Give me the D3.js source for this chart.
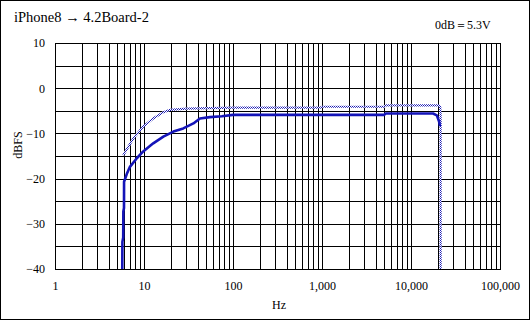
<!DOCTYPE html>
<html><head><meta charset="utf-8">
<script src="https://cdn.jsdelivr.net/npm/d3@7"></script>
<style>
html,body{margin:0;padding:0;background:#fff;}
svg{display:block;}
text{font-family:"Liberation Serif","Times New Roman",serif;fill:#000;}
</style></head>
<body><svg id="c" width="531" height="321"></svg>
<script>
const title = "iPhone8 → 4.2Board-2";
const refNote = "0dB＝5.3V";
const xTickValues = [1, 10, 100, 1000, 10000, 100000];
const yTickValues = [10, 0, -10, -20, -30, -40];
// solid blue series: frequency (Hz), level (dBFS)
const solidFreq = [5.7, 5.72, 5.84, 5.86, 5.96, 5.97, 6.4, 6.95, 8.3, 9.8, 12.7, 16.5, 21.4, 27.6, 35.9, 42.5, 55, 75, 100, 1000, 5000, 5200, 17700, 19500, 20700, 21200];
const solidDb   = [-40, -34, -33, -27.3, -26.5, -20.7, -19, -17.4, -15.5, -14.0, -12.2, -10.7, -9.6, -8.9, -7.8, -6.7, -6.4, -6.2, -5.9, -5.9, -5.9, -5.6, -5.6, -6.0, -7.4, -8.4];
// dotted series
const dotFreq = [5.85, 7.6, 9.8, 12.7, 16.5, 19.6, 30, 100, 950, 1000, 5000, 5200, 20500, 21300, 21500, 21500];
const dotDb   = [-14.8, -11.1, -8.5, -6.7, -5.3, -4.8, -4.5, -4.3, -4.3, -4.1, -4.1, -3.8, -3.8, -4.2, -6, -40];

const svg = d3.select("#c");
const W = 531, H = 321;
const m = {l:55, r:500, t:43, b:269};

// frame
svg.append("rect").attr("x",0.5).attr("y",0.5).attr("width",W-2).attr("height",H-2)
  .attr("fill","#fff").attr("stroke","#000").attr("stroke-width",1);

const x = d3.scaleLog().domain([1,100000]).range([m.l, m.r]);
const y = d3.scaleLinear().domain([-40,10]).range([m.b, m.t]);

// pattern for checkered line
const defs = svg.append("defs");
const pat = defs.append("pattern").attr("id","chk").attr("patternUnits","userSpaceOnUse")
  .attr("width",2).attr("height",2);
pat.append("rect").attr("width",2).attr("height",2).attr("fill","#fff");
pat.append("rect").attr("x",0).attr("y",0).attr("width",1).attr("height",1).attr("fill","#1c1cb4");
pat.append("rect").attr("x",1).attr("y",1).attr("width",1).attr("height",1).attr("fill","#1c1cb4");

const g = svg.append("g");
// vertical grid
const vlines = [];
for (let d = 1; d < 100000; d *= 10) for (let k = 1; k <= 9; k++) vlines.push(d*k);
vlines.push(100000);
g.selectAll(".vg").data(vlines).enter().append("line")
  .attr("x1", d => Math.round(x(d))+0.5).attr("x2", d => Math.round(x(d))+0.5)
  .attr("y1", m.t).attr("y2", m.b).attr("stroke","#000").attr("stroke-width",1);
// horizontal grid
const hlines = d3.range(-40, 10.1, 5);
g.selectAll(".hg").data(hlines).enter().append("line")
  .attr("y1", d => Math.round(y(d))+0.5).attr("y2", d => Math.round(y(d))+0.5)
  .attr("x1", m.l).attr("x2", m.r+1).attr("stroke","#000").attr("stroke-width",1);

// axes (labels only)
const fmt = d3.format(",");
const xAxis = d3.axisBottom(x).tickValues(xTickValues).tickFormat(d => fmt(d)).tickSize(0).tickPadding(0);
const xa = svg.append("g").attr("transform",`translate(0,${m.b+21})`).call(xAxis);
xa.select(".domain").remove();
xa.selectAll("text").attr("font-size",12).attr("dy",0).style("font-family",'"Liberation Serif",serif').attr("fill","#000");

const yAxis = d3.axisLeft(y).tickValues(yTickValues).tickSize(0).tickPadding(0);
const ya = svg.append("g").attr("transform",`translate(${m.l-10},0)`).call(yAxis);
ya.select(".domain").remove();
ya.selectAll("text").attr("font-size",12).style("font-family",'"Liberation Serif",serif').attr("fill","#000");

// lines
const line = d3.line().x(d => x(d[0])).y(d => y(d[1]));
const dotData = dotFreq.map((f,i) => [f, dotDb[i]]);
const solidData = solidFreq.map((f,i) => [f, solidDb[i]]);
svg.append("path").datum(dotData).attr("d", line).attr("fill","none")
  .attr("stroke","url(#chk)").attr("stroke-width",2.2);
svg.append("path").datum(solidData).attr("d", line).attr("fill","none")
  .attr("stroke","#1414b8").attr("stroke-width",2.6).attr("stroke-linejoin","round");

// texts
svg.append("text").attr("x",14).attr("y",22).attr("font-size",14.5).text(title);
svg.append("text").attr("x",435).attr("y",29).attr("font-size",12).text(refNote);
svg.append("text").attr("x",279).attr("y",309).attr("font-size",12).attr("text-anchor","middle").text("Hz");
svg.append("text").attr("transform","translate(22,145) rotate(-90)").attr("font-size",12)
  .attr("text-anchor","middle").text("dBFS");
</script></body></html>
